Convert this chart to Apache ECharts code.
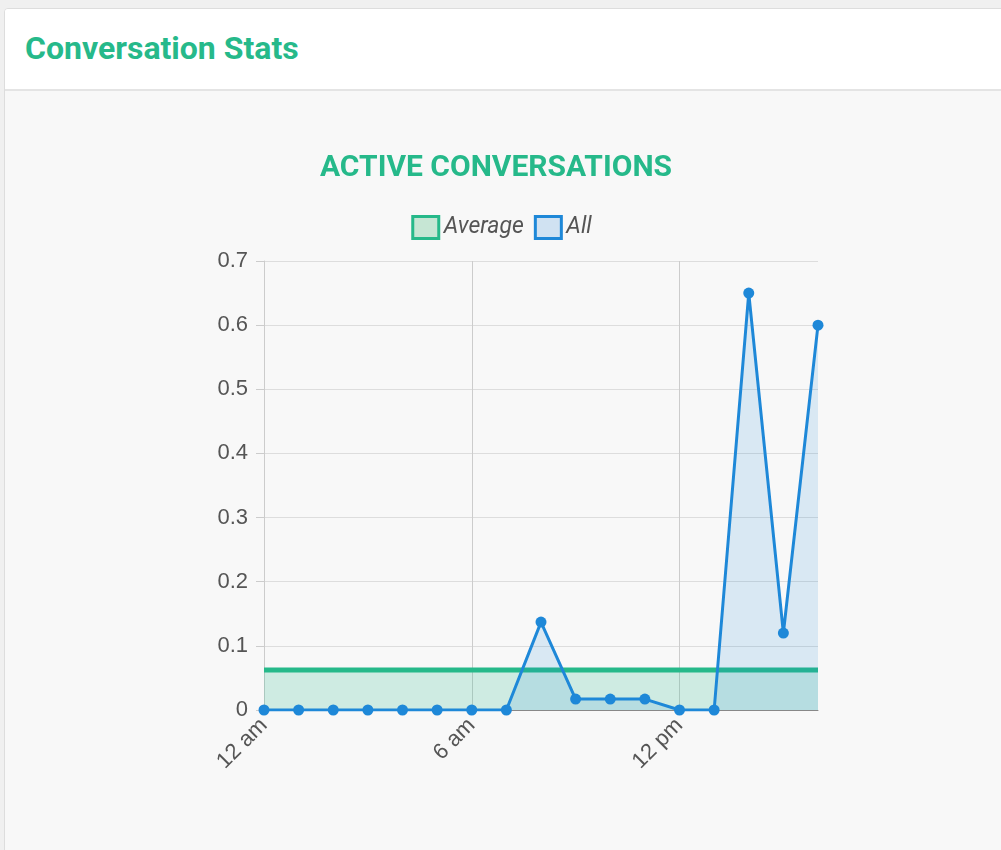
<!DOCTYPE html>
<html>
<head>
<meta charset="utf-8">
<script src="https://cdn.jsdelivr.net/npm/echarts@6/dist/echarts.min.js"></script>
<style>
  body { margin: 0; background: #f0f0f0; font-family: Roboto, sans-serif; }
  .card { position: absolute; left: 4px; top: 8px; width: 1010px; height: 860px; background: #f8f8f8; border: 1px solid #ddd; border-radius: 4px; overflow: hidden; }
  .card-head { height: 80px; background: #fff; border-bottom: 2px solid #e4e4e4; }
  .card-head h2 { margin: 0; padding: 20px 0 0 20px; font-size: 32px; color: #26b98a; font-weight: 700; }
  #chart { position: absolute; left: -4px; top: 82px; width: 1001px; height: 760px; }
</style>
</head>
<body>
<div class="card">
  <div class="card-head"><h2>Conversation Stats</h2></div>
  <div id="chart"></div>
</div>
<script>
const hours = ['12 am','1 am','2 am','3 am','4 am','5 am','6 am','7 am','8 am','9 am','10 am','11 am','12 pm','1 pm','2 pm','3 pm','4 pm'];
const allValues = [0,0,0,0,0,0,0,0,0.137,0.017,0.017,0.017,0,0,0.65,0.12,0.6];
const averageValues = hours.map(() => 0.0625);

const chart = echarts.init(document.getElementById('chart'));
chart.setOption({
    animation: false,
    title: {
        text: 'ACTIVE CONVERSATIONS', left: 490, top: 57, textAlign: 'center',
        textStyle: { color: '#26b98a', fontSize: 30, fontWeight: 'bold', fontFamily: 'Roboto' }
    },
    legend: {
        top: 119, left: 'center', itemGap: 10, itemWidth: 26, itemHeight: 22,
        textStyle: { fontStyle: 'italic', fontSize: 23, color: '#555', fontFamily: 'Roboto' },
        data: [
            { name: 'Average', icon: 'rect', itemStyle: { color: '#c6e6d4', borderColor: '#26b98a', borderWidth: 3 } },
            { name: 'All', icon: 'rect', itemStyle: { color: '#d0e2f2', borderColor: '#1e88d8', borderWidth: 3 } }
        ]
    },
    grid: { left: 263, top: 170, width: 554, height: 449 },
    xAxis: {
        type: 'category', data: hours, boundaryGap: false,
        axisLine: { lineStyle: { color: '#888' } },
        axisTick: { show: false },
        axisLabel: { interval: 5, rotate: 45, fontSize: 22, color: '#555', margin: 12 },
        splitLine: { show: true, interval: 5, lineStyle: { color: '#ccc' } }
    },
    yAxis: {
        type: 'value', min: 0, max: 0.7, interval: 0.1,
        axisLine: { show: true, lineStyle: { color: '#ccc' } },
        axisTick: { show: true, length: 8, lineStyle: { color: '#ccc' } },
        axisLabel: { fontSize: 22, color: '#555', margin: 16, formatter: v => v === 0 ? '0' : v.toFixed(1) },
        splitLine: { lineStyle: { color: '#ddd' } }
    },
    series: [
        {
            name: 'All', type: 'line', data: allValues, symbol: 'circle', symbolSize: 11,
            lineStyle: { color: '#1e88d8', width: 3 }, itemStyle: { color: '#1e88d8' },
            areaStyle: { color: 'rgba(30,136,216,0.2)' }, z: 3
        },
        {
            name: 'Average', type: 'line', data: averageValues, symbol: 'none',
            lineStyle: { color: '#26b98a', width: 5 }, itemStyle: { color: '#26b98a' },
            areaStyle: { color: 'rgba(38,185,138,0.28)' }, z: 2
        }
    ]
});
</script>
</body>
</html>
